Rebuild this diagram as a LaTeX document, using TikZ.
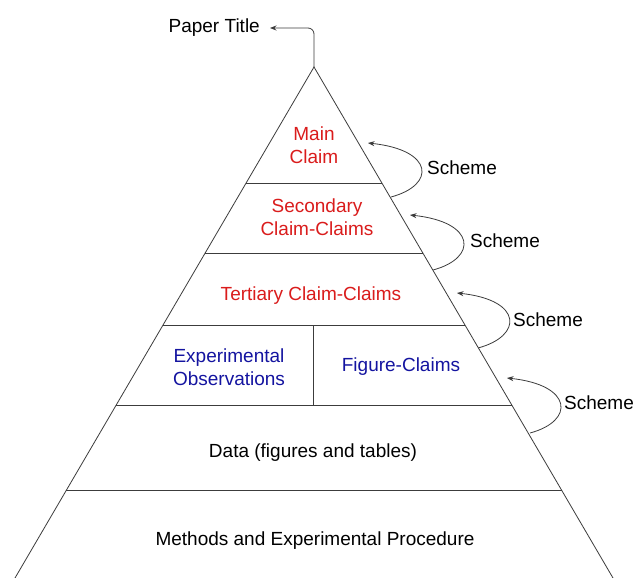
\documentclass[tikz,border=0pt]{standalone}
\usepackage{fontspec}
\setmainfont{Liberation Sans}
\usetikzlibrary{calc,arrows.meta}
\definecolor{claimred}{RGB}{218,28,28}
\definecolor{obsblue}{RGB}{20,20,160}
\definecolor{linegray}{RGB}{60,60,60}
\begin{document}
\begin{tikzpicture}[x=1pt,y=-1pt,
  edge/.style={draw=linegray,line width=0.8pt},
  lbl/.style={font=\fontsize{19}{23}\selectfont,align=center,inner sep=0pt},
  redlbl/.style={lbl,text=claimred},
  bluelbl/.style={lbl,text=obsblue},
  schemearrow/.style={edge,-{Stealth[length=6.5pt,width=5pt]}}]
\useasboundingbox (0,0) rectangle (635,578);
\fill[white] (0,0) rectangle (635,578);

% pyramid outline
\coordinate (apex) at (314,67);
\coordinate (bl) at (15,578);
\coordinate (br) at (613,578);
\draw[edge] (bl) -- (apex) -- (br);

% tier boundaries on the two sides
\foreach \t/\n in {0.227/1,0.364/2,0.505/3,0.663/4,0.828/5}{
  \coordinate (l\n) at ($(apex)!\t!(bl)$);
  \coordinate (r\n) at ($(apex)!\t!(br)$);
  \draw[edge] (l\n) -- (r\n);
}
\coordinate (divtop) at (313,325);
\coordinate (divbot) at (313,406);
\draw[edge] (divtop) -- (divbot);

% tier labels
\node[redlbl] (main) at (314,145) {Main\\Claim};
\node[redlbl] (secondary) at (317,217) {Secondary\\Claim-Claims};
\node[redlbl] (tertiary) at (311,296) {Tertiary Claim-Claims};
\node[bluelbl] (obs) at (229,367) {Experimental\\Observations};
\node[bluelbl] (fig) at (401,367) {Figure-Claims};
\node[lbl] (data) at (313,453) {Data (figures and tables)};
\node[lbl] (methods) at (315,541) {Methods and Experimental Procedure};

% title with arrow from the apex
\node[lbl,anchor=east,inner xsep=10pt] (title) at (270,28) {Paper Title};
\draw[edge,rounded corners=6pt,-{Stealth[length=6.5pt,width=5pt]}] (apex) |- (title.east);

% scheme arrows between tiers
\node[lbl] (s1) at (462,168) {Scheme};
\node[lbl] (s2) at (505,241) {Scheme};
\node[lbl] (s3) at (548,320) {Scheme};
\node[lbl] (s4) at (599,403) {Scheme};
\coordinate (a1) at (391,197); \coordinate (b1) at (368,143);
\coordinate (a2) at (433,270); \coordinate (b2) at (410,215);
\coordinate (a3) at (478,348); \coordinate (b3) at (457,293);
\coordinate (a4) at (530,433); \coordinate (b4) at (507,378);
\foreach \i in {1,2,3,4}{
  \draw[schemearrow] (a\i) .. controls ($(a\i)+(45,-12)$) and ($(b\i)+(66,7)$) .. (b\i);
}
\end{tikzpicture}
\end{document}
